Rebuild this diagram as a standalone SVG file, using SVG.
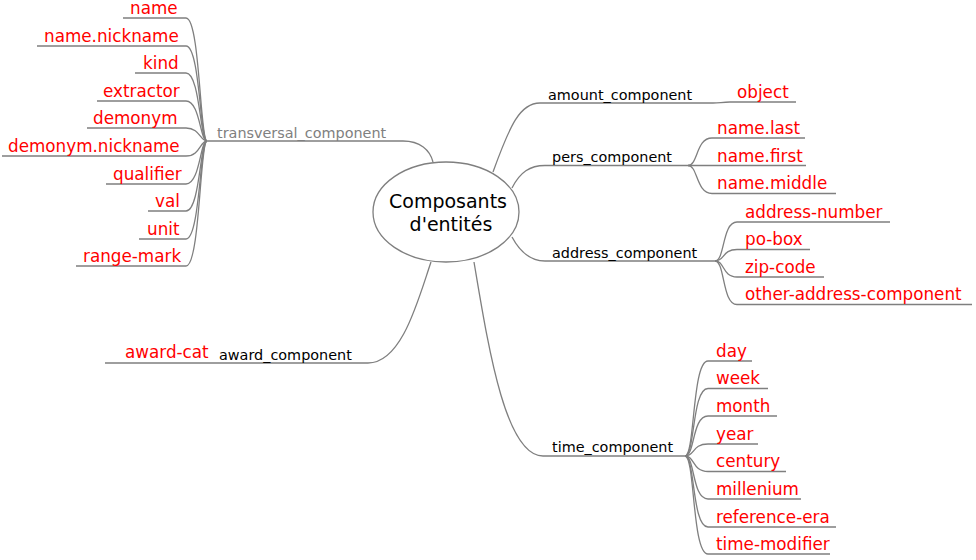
<svg xmlns="http://www.w3.org/2000/svg" width="976" height="560" viewBox="0 0 976 560">
<style>
.e{fill:none;stroke:#7f7f7f;stroke-width:1.3}
.r{font-family:"DejaVu Sans",sans-serif;font-size:16.8px;fill:#ff0000}
.b{font-family:"DejaVu Sans",sans-serif;font-size:14.4px;fill:#000}
.g{font-family:"DejaVu Sans",sans-serif;font-size:14.4px;fill:#808080}
.c{font-family:"DejaVu Sans",sans-serif;font-size:19px;fill:#000;text-anchor:middle}
</style>
<rect width="976" height="560" fill="#fff"/>
<g id="connectors">
<path class="e" d="M433 162 C430 150 420 141 403 141 H207"/>
<path class="e" d="M123 18 H186 C200 18 200 141 207 141"/>
<path class="e" d="M37 46 H186 C200 46 200 141 207 141"/>
<path class="e" d="M135 73 H186 C200 73 200 141 207 141"/>
<path class="e" d="M97 101 H186 C200 101 200 141 207 141"/>
<path class="e" d="M87 128 H186 C200 128 200 141 207 141"/>
<path class="e" d="M2 156 H186 C200 156 200 141 207 141"/>
<path class="e" d="M106 184 H186 C200 184 200 141 207 141"/>
<path class="e" d="M148 211 H186 C200 211 200 141 207 141"/>
<path class="e" d="M139 239 H186 C200 239 200 141 207 141"/>
<path class="e" d="M76 266 H186 C200 266 200 141 207 141"/>
<path class="e" d="M493 172 C510 125 520 103 540 103 H713 C720 103 722 102 730 102 H796"/>
<path class="e" d="M512 188 C520 172 530 165.5 545 165.5 H688"/>
<path class="e" d="M688 165.5 C698 165.5 696 138 712 138 H805"/>
<path class="e" d="M688 165.5 C698 165.5 696 165.5 712 165.5 H806"/>
<path class="e" d="M688 165.5 C698 165.5 696 193.5 712 193.5 H836"/>
<path class="e" d="M512 237 C520 252 530 261 545 261 H715"/>
<path class="e" d="M715 261 C725 261 722 222 737 222 H890"/>
<path class="e" d="M715 261 C725 261 722 249.5 737 249.5 H810"/>
<path class="e" d="M715 261 C725 261 722 277 737 277 H824"/>
<path class="e" d="M715 261 C725 261 722 304.5 737 304.5 H972"/>
<path class="e" d="M474 262 C488 345 505 456 543 456 H685"/>
<path class="e" d="M685 456 C695 456 692 361 708 361 H752"/>
<path class="e" d="M685 456 C695 456 692 388.5 708 388.5 H768"/>
<path class="e" d="M685 456 C695 456 692 416 708 416 H777"/>
<path class="e" d="M685 456 C695 456 692 444 708 444 H758"/>
<path class="e" d="M685 456 C695 456 692 471.5 708 471.5 H786"/>
<path class="e" d="M685 456 C695 456 692 499 708 499 H801"/>
<path class="e" d="M685 456 C695 456 692 527 708 527 H836"/>
<path class="e" d="M685 456 C695 456 692 554 708 554 H830"/>
<path class="e" d="M431 262 C418 300 402 363 368 363 H105"/>
</g>
<g id="center">
<ellipse cx="446" cy="212" rx="73" ry="50" fill="#fff" stroke="#7f7f7f" stroke-width="1.3"/>
<text class="c" x="448" y="208">Composants</text>
<text class="c" x="451" y="231">d'entités</text>
</g>
<g id="transversal_component">
<text class="g" x="217" y="137.5">transversal_component</text>
<text class="r" x="130" y="13.5">name</text>
<text class="r" x="44" y="41.5">name.nickname</text>
<text class="r" x="143" y="68.5">kind</text>
<text class="r" x="103" y="96.5">extractor</text>
<text class="r" x="93" y="123.5">demonym</text>
<text class="r" x="8" y="151.5">demonym.nickname</text>
<text class="r" x="113" y="179.5">qualifier</text>
<text class="r" x="155" y="206.5">val</text>
<text class="r" x="147" y="234.5">unit</text>
<text class="r" x="83" y="261.5">range-mark</text>
</g>
<g id="amount_component">
<text class="b" x="548" y="100">amount_component</text>
<text class="r" x="737" y="98">object</text>
</g>
<g id="pers_component">
<text class="b" x="552" y="161.5">pers_component</text>
<text class="r" x="717" y="134">name.last</text>
<text class="r" x="717" y="161.5">name.first</text>
<text class="r" x="717" y="189">name.middle</text>
</g>
<g id="address_component">
<text class="b" x="552" y="258">address_component</text>
<text class="r" x="745" y="217.5">address-number</text>
<text class="r" x="745" y="245">po-box</text>
<text class="r" x="745" y="272.5">zip-code</text>
<text class="r" x="745" y="300">other-address-component</text>
</g>
<g id="time_component">
<text class="b" x="552" y="452">time_component</text>
<text class="r" x="716" y="356.5">day</text>
<text class="r" x="716" y="384">week</text>
<text class="r" x="716" y="411.5">month</text>
<text class="r" x="716" y="439.5">year</text>
<text class="r" x="716" y="467">century</text>
<text class="r" x="716" y="494.5">millenium</text>
<text class="r" x="716" y="522.5">reference-era</text>
<text class="r" x="716" y="549.5">time-modifier</text>
</g>
<g id="award_component">
<text class="b" x="219" y="360">award_component</text>
<text class="r" x="125" y="358">award-cat</text>
</g>
</svg>
